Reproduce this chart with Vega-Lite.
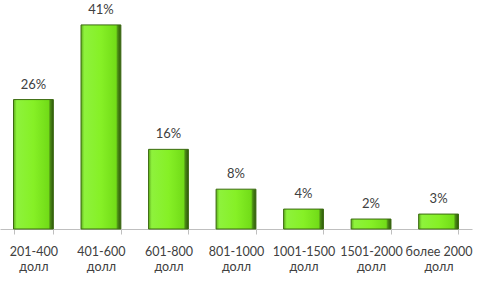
{
  "$schema": "https://vega.github.io/schema/vega-lite/v6.json",
  "width": 472,
  "height": 224,
  "autosize": {"type": "none"},
  "padding": {"left": 0, "top": 5, "right": 8, "bottom": 53},
  "background": "white",
  "config": {"view": {"stroke": null}, "font": "Lato"},
  "data": {
    "values": [
      {"cat": "201-400|долл", "pct": 26},
      {"cat": "401-600|долл", "pct": 41},
      {"cat": "601-800|долл", "pct": 16},
      {"cat": "801-1000|долл", "pct": 8},
      {"cat": "1001-1500|долл", "pct": 4},
      {"cat": "1501-2000|долл", "pct": 2},
      {"cat": "более 2000|долл", "pct": 3}
    ]
  },
  "encoding": {
    "x": {
      "field": "cat",
      "type": "nominal",
      "sort": null,
      "scale": {"paddingInner": 0.41, "paddingOuter": 0.2},
      "axis": {
        "title": null,
        "labelAngle": 0,
        "labelExpr": "isString(datum.value) && indexof(datum.value, '|') >= 0 ? split(datum.value, '|') : ''",
        "labelFont": "Lato",
        "labelFontSize": 12.5,
        "labelColor": "#404040",
        "labelLineHeight": 15,
        "labelPadding": 11,
        "labelBaseline": "top",
        "labelOverlap": false,
        "labelBound": false,
        "domainColor": "#bfbfbf",
        "tickColor": "#bfbfbf",
        "tickSize": 5,
        "tickBand": "extent"
      }
    },
    "y": {
      "field": "pct",
      "type": "quantitative",
      "scale": {"domain": [0, 45], "nice": false},
      "axis": null
    }
  },
  "layer": [
    {
      "mark": {
        "type": "bar",
        "stroke": "#3c6a12",
        "strokeWidth": 1,
        "fill": {
          "gradient": "linear",
          "x1": 0, "y1": 0, "x2": 1, "y2": 0,
          "stops": [
            {"offset": 0, "color": "#5fae1c"},
            {"offset": 0.08, "color": "#8ef23c"},
            {"offset": 0.5, "color": "#86f026"},
            {"offset": 0.88, "color": "#72dc18"},
            {"offset": 0.92, "color": "#4b8c14"},
            {"offset": 1, "color": "#2e560c"}
          ]
        }
      }
    },
    {
      "mark": {
        "type": "text",
        "baseline": "bottom",
        "dy": -8,
        "fontSize": 13,
        "font": "Lato",
        "color": "#404040",
        "text": {"expr": "datum.pct + '%'"}
      }
    }
  ]
}
